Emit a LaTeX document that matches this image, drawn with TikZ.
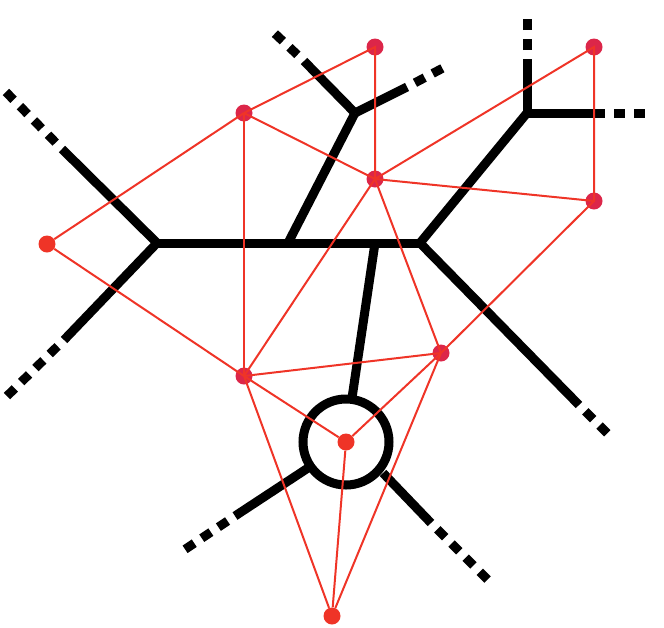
\documentclass[tikz,border=0pt]{standalone}
\usetikzlibrary{positioning}

\definecolor{crimson}{HTML}{DC2649}
\definecolor{brightred}{HTML}{EF3427}

\tikzset{
  curve/.style={line width=9pt, black},
  rayend/.style={line width=9pt, black, dash pattern=on 11pt off 9pt, dash phase=11pt},
  dual/.style={line width=2pt, brightred},
  pt/.style={circle, fill=crimson, inner sep=0pt, minimum size=17pt},
  ptr/.style={circle, fill=brightred, inner sep=0pt, minimum size=17pt}
}

\begin{document}
\begin{tikzpicture}[x=1pt,y=-1pt]
  \useasboundingbox (0,0) rectangle (664,627);

%%%%%%%%%%%%%%%%%%%%%%%%%%%%%%%%%%%%%%%%%%
  % Tropical curve
  \begin{scope}
    % Vertices
    \coordinate (vL) at (157,243);
    \coordinate (vA) at (288,243);
    \coordinate (vB) at (375,243);
    \coordinate (vR) at (420,243);
    \coordinate (vT) at (355,113);
    \coordinate (vS) at (527,113);
    \coordinate (cyc) at (346,442);

    % Bounded edges
    \draw[curve] (vL) -- (vR);
    \draw[curve] (vA) -- (vT);
    \draw[curve] (vR) -- (vS);
    \draw[curve] (vB) -- (352,398);
    \draw[curve] (cyc) circle (43);

    % Rays (solid part, then dashed part)
    \draw[curve] (vL) -- (62,149);
    \draw[rayend] (62,149) -- (3,89);
    \draw[curve] (vL) -- (64,340);
    \draw[rayend] (64,340) -- (3,400);
    \draw[curve] (vT) -- (304,61);
    \draw[rayend] (304,61) -- (270,29);
    \draw[curve] (vT) -- (407,87);
    \draw[rayend] (407,87) -- (443,68);
    \draw[curve] (vS) -- (527,59);
    \draw[rayend] (527,59) -- (527,13);
    \draw[curve] (vS) -- (605,113);
    \draw[rayend] (605,113) -- (652,113);
    \draw[curve] (vR) -- (579,405);
    \draw[rayend] (579,405) -- (612,438);
    \draw[curve] (308,468) -- (235,516);
    \draw[rayend] (235,516) -- (178,554);
    \draw[curve] (383,473) -- (431,523);
    \draw[rayend] (431,523) -- (491,583);
  \end{scope}

%%%%%%%%%%%%%%%%%%%%%%%%%%%%%%%%%%%%%%%%%%
  % Dual subdivision
  \begin{scope}
    % Points
    \node[pt] (p1) at (375,47) {};
    \node[pt] (p2) at (244,113) {};
    \node[pt] (p3) at (594,47) {};
    \node[pt] (p4) at (375,179) {};
    \node[pt] (p5) at (594,201) {};
    \node[pt] (p7) at (244,376) {};
    \node[pt] (p8) at (441,353) {};

    % Edges
    \draw[dual] (p2.center) -- (p1.center) -- (p4.center) -- (p2.center);
    \draw[dual] (p4.center) -- (p3.center) -- (p5.center) -- (p4.center);
    \draw[dual] (p2.center) -- (p7.center);
    \draw[dual] (p4.center) -- (p7.center);
    \draw[dual] (p4.center) -- (p8.center);
    \draw[dual] (p5.center) -- (p8.center);
    \draw[dual] (p7.center) -- (p8.center);

    \node[ptr] (p6) at (47,244) {};
    \node[ptr] (p9) at (346,442) {};
    \node[ptr] (p10) at (332,616) {};

    \draw[dual] (p2.center) -- (p6) -- (p7.center);
    \draw[dual] (p7.center) -- (p9) -- (p8.center);
    \draw[dual] (p7.center) -- (p10) -- (p8.center);
    \draw[dual] (p9) -- (p10);
  \end{scope}

\end{tikzpicture}
\end{document}
